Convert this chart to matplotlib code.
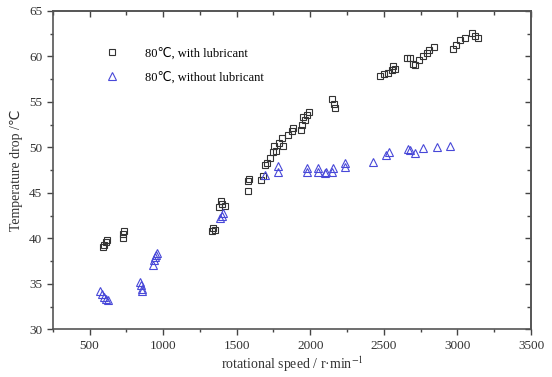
import numpy as np
import matplotlib.pyplot as plt
from matplotlib.ticker import MultipleLocator

# 80 C, with lubricant
speed_lub = [590, 600, 612, 620, 725, 730, 735,
             1330, 1340, 1350, 1380, 1392, 1400, 1420,
             1575, 1580, 1585, 1665, 1680, 1690, 1705, 1725, 1748, 1755, 1765,
             1790, 1805, 1816, 1850, 1873, 1884, 1935, 1941, 1952, 1965, 1980, 1990,
             2150, 2160, 2170,
             2472, 2500, 2530, 2552, 2560, 2574,
             2654, 2680, 2700, 2715, 2740, 2765, 2790, 2810, 2840,
             2970, 2993, 3020, 3050, 3100, 3117, 3138]
drop_lub = [39.1, 39.3, 39.6, 39.8, 40.1, 40.5, 40.8,
            40.8, 41.1, 40.9, 43.5, 44.1, 43.8, 43.6,
            45.2, 46.3, 46.5, 46.4, 46.8, 48.1, 48.3, 48.8, 49.5, 50.1, 49.6,
            50.5, 51.0, 50.2, 51.4, 51.8, 52.1, 51.9, 52.5, 53.3, 53.0, 53.5, 53.9,
            55.3, 54.8, 54.3,
            57.8, 58.0, 58.2, 58.5, 58.9, 58.6,
            59.8, 59.8, 59.2, 59.0, 59.6, 60.0, 60.4, 60.7, 61.0,
            60.8, 61.2, 61.8, 62.0, 62.6, 62.2, 62.0]

# 80 C, without lubricant
speed_dry = [571, 585, 600, 615, 628,
             845, 850, 855, 858,
             933, 940, 948, 952, 956,
             1385, 1397, 1410,
             1690, 1780, 1782,
             1975, 1981, 2053, 2053, 2100, 2110, 2150, 2155, 2239, 2239,
             2423, 2513, 2536, 2665, 2676, 2710, 2766, 2864, 2948]
drop_dry = [34.2, 33.9, 33.6, 33.4, 33.2,
            35.2, 34.9, 34.5, 34.2,
            37.1, 37.6, 38.0, 38.2, 38.4,
            42.2, 42.5, 42.8,
            47.0, 47.3, 47.9,
            47.3, 47.7, 47.7, 47.3, 47.2, 47.3, 47.3, 47.7, 47.8, 48.3,
            48.4, 49.2, 49.5, 49.8, 49.7, 49.4, 49.9, 50.0, 50.2]

plt.rcParams['font.family'] = ['Liberation Serif', 'DejaVu Serif']
plt.rcParams['mathtext.fontset'] = 'stix'
sym_font = ['Liberation Serif', 'DejaVu Sans']

fig = plt.figure(figsize=(5.52, 3.77), dpi=100)
ax = fig.add_axes([0.0955, 0.126, 0.8665, 0.8455])

ax.plot(speed_lub, drop_lub, linestyle='none', marker='s', markersize=5,
        markerfacecolor='none', markeredgecolor='#333333', markeredgewidth=0.8,
        label='80\u2103, with lubricant')
ax.plot(speed_dry, drop_dry, linestyle='none', marker='^', markersize=6,
        markerfacecolor='none', markeredgecolor='#4848d8', markeredgewidth=0.8,
        label='80\u2103, without lubricant')

ax.set_xlim(250, 3500)
ax.set_ylim(30, 65)
ax.xaxis.set_major_locator(MultipleLocator(500))
ax.xaxis.set_minor_locator(MultipleLocator(250))
ax.yaxis.set_major_locator(MultipleLocator(5))
ax.yaxis.set_minor_locator(MultipleLocator(2.5))
ax.tick_params(which='both', direction='out', color='#444444', width=1.0)
ax.tick_params(which='major', length=4, labelsize=9.5, labelcolor='#333333')
ax.tick_params(which='minor', length=2.5)

# inward ticks on the top and right frame
top = ax.secondary_xaxis('top')
top.xaxis.set_major_locator(MultipleLocator(500))
top.xaxis.set_minor_locator(MultipleLocator(250))
top.tick_params(which='both', direction='in', labeltop=False, color='#444444', width=1.0)
top.tick_params(which='major', length=4)
top.tick_params(which='minor', length=3)
right = ax.secondary_yaxis('right')
right.yaxis.set_major_locator(MultipleLocator(5))
right.yaxis.set_minor_locator(MultipleLocator(2.5))
right.tick_params(which='both', direction='in', labelright=False, color='#444444', width=1.0)
right.tick_params(which='major', length=4)
right.tick_params(which='minor', length=3)

for a in (ax, top, right):
    for s in a.spines.values():
        s.set_color('#555555')
        s.set_linewidth(1.2)

ax.set_xlabel('rotational speed / r\u00b7min$^{-1}$', fontsize=10, color='#333333', labelpad=2)
ax.set_ylabel('Temperature drop /\u2103', fontsize=10, color='#333333', labelpad=4,
              family=sym_font)

ax.legend(loc='upper left', bbox_to_anchor=(0.075, 0.92), frameon=False,
          handletextpad=1.6, labelspacing=0.9, markerscale=0.9,
          prop={'family': sym_font, 'size': 9})

fig.savefig('out.png', dpi=100)
